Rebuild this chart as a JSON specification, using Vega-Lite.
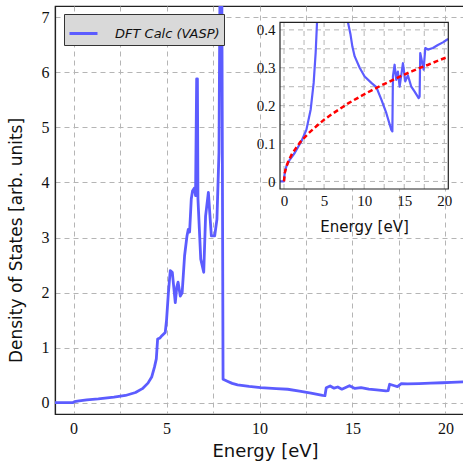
{
  "$schema": "https://vega.github.io/schema/vega-lite/v6.json",
  "width": 409,
  "height": 408,
  "autosize": "none",
  "padding": {"left": 55, "top": 6, "right": 0, "bottom": 48},
  "background": "white",
  "config": {
    "view": {"stroke": "#222222", "strokeWidth": 1.2},
    "axis": {
      "domainColor": "#222222",
      "domainWidth": 1.2,
      "gridColor": "#b5b5b5",
      "gridDash": [5, 4],
      "gridWidth": 1,
      "labelFont": "Liberation Serif",
      "labelFontSize": 16,
      "labelColor": "#111111",
      "titleFont": "DejaVu Sans",
      "titleFontWeight": "normal",
      "titleColor": "#111111"
    }
  },
  "datasets": {
    "dos": [
      {"E": -1.0, "D": 0.005}, {"E": -0.05, "D": 0.005}, {"E": 0.05, "D": 0.025},
      {"E": 0.3, "D": 0.04}, {"E": 0.71, "D": 0.057}, {"E": 1.33, "D": 0.075},
      {"E": 2.17, "D": 0.106}, {"E": 2.79, "D": 0.136}, {"E": 3.33, "D": 0.19},
      {"E": 3.7, "D": 0.26}, {"E": 4.0, "D": 0.36}, {"E": 4.2, "D": 0.47},
      {"E": 4.35, "D": 0.65}, {"E": 4.45, "D": 0.8}, {"E": 4.52, "D": 1.16},
      {"E": 4.65, "D": 1.18}, {"E": 4.75, "D": 1.22}, {"E": 4.93, "D": 1.28},
      {"E": 5.0, "D": 1.5}, {"E": 5.1, "D": 2.0}, {"E": 5.2, "D": 2.4},
      {"E": 5.31, "D": 2.37}, {"E": 5.47, "D": 1.82}, {"E": 5.55, "D": 2.1},
      {"E": 5.62, "D": 2.19}, {"E": 5.74, "D": 1.94}, {"E": 5.84, "D": 2.0},
      {"E": 5.97, "D": 2.67}, {"E": 6.1, "D": 3.03}, {"E": 6.17, "D": 3.15},
      {"E": 6.24, "D": 3.1}, {"E": 6.33, "D": 3.7}, {"E": 6.4, "D": 3.85},
      {"E": 6.5, "D": 3.9}, {"E": 6.56, "D": 3.76}, {"E": 6.62, "D": 5.88},
      {"E": 6.66, "D": 5.88}, {"E": 6.69, "D": 3.7}, {"E": 6.84, "D": 2.61},
      {"E": 7.0, "D": 2.37}, {"E": 7.1, "D": 3.39}, {"E": 7.25, "D": 3.82},
      {"E": 7.41, "D": 3.03}, {"E": 7.59, "D": 3.03}, {"E": 7.71, "D": 3.33},
      {"E": 7.82, "D": 4.54}, {"E": 7.9, "D": 9.0}, {"E": 7.96, "D": 9.0},
      {"E": 8.04, "D": 0.43}, {"E": 8.3, "D": 0.39}, {"E": 8.53, "D": 0.356},
      {"E": 8.82, "D": 0.33}, {"E": 9.44, "D": 0.3}, {"E": 10.06, "D": 0.277},
      {"E": 10.9, "D": 0.26}, {"E": 11.52, "D": 0.249}, {"E": 12.15, "D": 0.216},
      {"E": 12.77, "D": 0.18}, {"E": 13.39, "D": 0.136}, {"E": 13.52, "D": 0.132},
      {"E": 13.59, "D": 0.277}, {"E": 13.8, "D": 0.308}, {"E": 14.01, "D": 0.268},
      {"E": 14.21, "D": 0.29}, {"E": 14.43, "D": 0.25}, {"E": 14.84, "D": 0.312},
      {"E": 15.13, "D": 0.264}, {"E": 15.46, "D": 0.28}, {"E": 15.88, "D": 0.25},
      {"E": 16.3, "D": 0.237}, {"E": 16.8, "D": 0.22}, {"E": 16.92, "D": 0.224},
      {"E": 17.0, "D": 0.339}, {"E": 17.26, "D": 0.312}, {"E": 17.42, "D": 0.295},
      {"E": 17.63, "D": 0.352}, {"E": 17.96, "D": 0.348}, {"E": 18.58, "D": 0.352},
      {"E": 19.2, "D": 0.36}, {"E": 19.83, "D": 0.367}, {"E": 20.32, "D": 0.374},
      {"E": 21.0, "D": 0.385}
    ],
    "inset": [
      {"seg": 1, "E": -0.5, "D": 0.0}, {"seg": 1, "E": -0.02, "D": 0.0},
      {"seg": 1, "E": 0.09, "D": 0.022}, {"seg": 1, "E": 0.3, "D": 0.04},
      {"seg": 1, "E": 0.71, "D": 0.057}, {"seg": 1, "E": 1.33, "D": 0.075},
      {"seg": 1, "E": 2.17, "D": 0.106}, {"seg": 1, "E": 2.79, "D": 0.136},
      {"seg": 1, "E": 3.33, "D": 0.19}, {"seg": 1, "E": 3.7, "D": 0.26},
      {"seg": 1, "E": 3.95, "D": 0.34}, {"seg": 1, "E": 4.12, "D": 0.42},
      {"seg": 2, "E": 7.98, "D": 0.42}, {"seg": 2, "E": 8.28, "D": 0.39},
      {"seg": 2, "E": 8.53, "D": 0.356}, {"seg": 2, "E": 8.82, "D": 0.33},
      {"seg": 2, "E": 9.44, "D": 0.3}, {"seg": 2, "E": 10.06, "D": 0.277},
      {"seg": 2, "E": 10.9, "D": 0.26}, {"seg": 2, "E": 11.52, "D": 0.249},
      {"seg": 2, "E": 12.15, "D": 0.216}, {"seg": 2, "E": 12.77, "D": 0.18},
      {"seg": 2, "E": 13.39, "D": 0.136}, {"seg": 2, "E": 13.52, "D": 0.132},
      {"seg": 2, "E": 13.59, "D": 0.277}, {"seg": 2, "E": 13.8, "D": 0.308},
      {"seg": 2, "E": 14.01, "D": 0.268}, {"seg": 2, "E": 14.21, "D": 0.29},
      {"seg": 2, "E": 14.43, "D": 0.25}, {"seg": 2, "E": 14.84, "D": 0.312},
      {"seg": 2, "E": 15.13, "D": 0.264}, {"seg": 2, "E": 15.46, "D": 0.28},
      {"seg": 2, "E": 15.88, "D": 0.25}, {"seg": 2, "E": 16.3, "D": 0.237},
      {"seg": 2, "E": 16.8, "D": 0.22}, {"seg": 2, "E": 16.92, "D": 0.224},
      {"seg": 2, "E": 17.0, "D": 0.339}, {"seg": 2, "E": 17.26, "D": 0.312},
      {"seg": 2, "E": 17.42, "D": 0.295}, {"seg": 2, "E": 17.63, "D": 0.352},
      {"seg": 2, "E": 17.96, "D": 0.348}, {"seg": 2, "E": 18.58, "D": 0.352},
      {"seg": 2, "E": 19.2, "D": 0.36}, {"seg": 2, "E": 19.83, "D": 0.367},
      {"seg": 2, "E": 20.32, "D": 0.374}, {"seg": 2, "E": 20.5, "D": 0.376}
    ],
    "freeElectron": [
      {"E": 0.0, "D": 0.0}, {"E": 0.1, "D": 0.023}, {"E": 0.25, "D": 0.036},
      {"E": 0.5, "D": 0.051}, {"E": 1, "D": 0.073}, {"E": 2, "D": 0.103},
      {"E": 3, "D": 0.126}, {"E": 4, "D": 0.145}, {"E": 5, "D": 0.163},
      {"E": 6, "D": 0.178}, {"E": 7, "D": 0.192}, {"E": 8, "D": 0.206},
      {"E": 9, "D": 0.218}, {"E": 10, "D": 0.23}, {"E": 11, "D": 0.241},
      {"E": 12, "D": 0.252}, {"E": 13, "D": 0.262}, {"E": 14, "D": 0.272},
      {"E": 15, "D": 0.282}, {"E": 16, "D": 0.291}, {"E": 17, "D": 0.3},
      {"E": 18, "D": 0.308}, {"E": 19, "D": 0.317}, {"E": 20, "D": 0.325},
      {"E": 20.5, "D": 0.329}
    ],
    "insetBox": [
      {"E0": -0.5, "E1": 20.5, "D0": -0.02, "D1": 0.42}
    ],
    "insetGridE": [
      {"g": 0, "D0": -0.02, "D1": 0.42}, {"g": 2.5, "D0": -0.02, "D1": 0.42},
      {"g": 5, "D0": -0.02, "D1": 0.42}, {"g": 7.5, "D0": -0.02, "D1": 0.42},
      {"g": 10, "D0": -0.02, "D1": 0.42}, {"g": 12.5, "D0": -0.02, "D1": 0.42},
      {"g": 15, "D0": -0.02, "D1": 0.42}, {"g": 17.5, "D0": -0.02, "D1": 0.42},
      {"g": 20, "D0": -0.02, "D1": 0.42}
    ],
    "insetGridD": [
      {"g": 0, "E0": -0.5, "E1": 20.5}, {"g": 0.05, "E0": -0.5, "E1": 20.5},
      {"g": 0.1, "E0": -0.5, "E1": 20.5}, {"g": 0.15, "E0": -0.5, "E1": 20.5},
      {"g": 0.2, "E0": -0.5, "E1": 20.5}, {"g": 0.25, "E0": -0.5, "E1": 20.5},
      {"g": 0.3, "E0": -0.5, "E1": 20.5}, {"g": 0.35, "E0": -0.5, "E1": 20.5},
      {"g": 0.4, "E0": -0.5, "E1": 20.5}
    ]
  },
  "layer": [
    {
      "layer": [
        {
          "mark": {"type": "rule", "color": "black", "strokeWidth": 2, "strokeDash": [6, 4]},
          "encoding": {
            "x": {"datum": 0, "type": "quantitative"},
            "x2": {"datum": 21},
            "y": {"datum": 0, "type": "quantitative"}
          }
        },
        {
          "data": {"name": "dos"},
          "mark": {"type": "line", "clip": true, "strokeWidth": 2.8, "strokeJoin": "round"},
          "encoding": {
            "x": {
              "field": "E", "type": "quantitative",
              "scale": {"domain": [-1, 21], "nice": false, "zero": false},
              "axis": {
                "title": "Energy [eV]",
                "titleFontSize": 18,
                "titleX": 210,
                "titleY": 42,
                "titleBaseline": "alphabetic",
                "values": [0, 2.5, 5, 7.5, 10, 12.5, 15, 17.5, 20],
                "labelExpr": "datum.value % 5 === 0 ? format(datum.value, 'd') : ''",
                "ticks": false,
                "labelPadding": 6,
                "grid": true
              }
            },
            "y": {
              "field": "D", "type": "quantitative",
              "scale": {"domain": [-0.2, 7.2], "nice": false, "zero": false},
              "axis": {
                "title": "Density of States [arb. units]",
                "titleFontSize": 17,
                "titleAngle": 270,
                "titleX": -39,
                "titleY": 234,
                "titleAlign": "center",
                "titleBaseline": "middle",
                "values": [0, 0.5, 1, 1.5, 2, 2.5, 3, 3.5, 4, 4.5, 5, 5.5, 6, 6.5, 7],
                "labelExpr": "datum.value % 1 === 0 ? format(datum.value, 'd') : ''",
                "ticks": false,
                "labelPadding": 6,
                "grid": true
              }
            },
            "color": {
              "datum": "DFT Calc (VASP)",
              "type": "nominal",
              "scale": {"range": ["#5c5cff"]},
              "legend": {
                "title": null,
                "orient": "none",
                "legendX": 9,
                "legendY": 8,
                "fillColor": "#d9d9d9",
                "strokeColor": "#333333",
                "padding": 4,
                "symbolType": "stroke",
                "symbolSize": 784,
                "symbolStrokeWidth": 3,
                "labelFont": "DejaVu Sans",
                "labelFontStyle": "italic",
                "labelFontSize": 13,
                "labelColor": "#111111",
                "labelOffset": 16
              }
            }
          }
        },
        {
          "mark": {"type": "rect", "color": "black"},
          "encoding": {
            "x": {"datum": -0.54, "type": "quantitative"},
            "x2": {"datum": 3.23},
            "y": {"datum": 5.2, "type": "quantitative"},
            "y2": {"datum": 5.72}
          }
        },
        {
          "mark": {"type": "text", "text": "Copper", "color": "white", "font": "DejaVu Sans", "fontStyle": "italic", "fontSize": 17, "align": "center", "baseline": "middle"},
          "encoding": {
            "x": {"datum": 1.35, "type": "quantitative"},
            "y": {"datum": 5.46, "type": "quantitative"}
          }
        }
      ]
    },
    {
      "layer": [
        {
          "data": {"name": "insetBox"},
          "mark": {"type": "rect", "color": "white", "opacity": 1},
          "encoding": {
            "x": {
              "field": "E0", "type": "quantitative",
              "scale": {"domain": [-0.5, 20.5], "range": [225, 393.3], "nice": false, "zero": false},
              "axis": {
                "orient": "bottom",
                "offset": -225,
                "domain": false,
                "title": "Energy [eV]",
                "titleFontSize": 15,
                "titleX": 309,
                "titleY": 42,
                "titleBaseline": "alphabetic",
                "values": [0, 2.5, 5, 7.5, 10, 12.5, 15, 17.5, 20],
                "labelExpr": "datum.value % 5 === 0 ? format(datum.value, 'd') : ''",
                "labelFontSize": 15,
                "ticks": false,
                "labelPadding": 4,
                "grid": false
              }
            },
            "x2": {"field": "E1"},
            "y": {
              "field": "D0", "type": "quantitative",
              "scale": {"domain": [-0.02, 0.42], "range": [183, 16.3], "nice": false, "zero": false},
              "axis": {
                "orient": "left",
                "offset": -225,
                "domain": false,
                "title": null,
                "values": [0, 0.05, 0.1, 0.15, 0.2, 0.25, 0.3, 0.35, 0.4],
                "labelExpr": "abs(round(datum.value * 100)) % 10 === 0 ? format(datum.value, '~g') : ''",
                "labelFontSize": 15,
                "ticks": false,
                "labelPadding": 5,
                "grid": false
              }
            },
            "y2": {"field": "D1"}
          }
        },
        {
          "data": {"name": "insetGridE"},
          "mark": {"type": "rule", "color": "#b5b5b5", "strokeWidth": 1, "strokeDash": [5, 4]},
          "encoding": {
            "x": {"field": "g", "type": "quantitative"},
            "y": {"field": "D0", "type": "quantitative"},
            "y2": {"field": "D1"}
          }
        },
        {
          "data": {"name": "insetGridD"},
          "mark": {"type": "rule", "color": "#b5b5b5", "strokeWidth": 1, "strokeDash": [5, 4]},
          "encoding": {
            "y": {"field": "g", "type": "quantitative"},
            "x": {"field": "E0", "type": "quantitative"},
            "x2": {"field": "E1"}
          }
        },
        {
          "data": {"name": "inset"},
          "mark": {"type": "line", "color": "#5c5cff", "strokeWidth": 2.2, "strokeJoin": "round"},
          "encoding": {
            "x": {"field": "E", "type": "quantitative"},
            "y": {"field": "D", "type": "quantitative"},
            "detail": {"field": "seg", "type": "nominal"}
          }
        },
        {
          "data": {"name": "freeElectron"},
          "mark": {"type": "line", "color": "#ff0000", "strokeWidth": 2.5, "strokeDash": [5, 3]},
          "encoding": {
            "x": {"field": "E", "type": "quantitative"},
            "y": {"field": "D", "type": "quantitative"}
          }
        },
        {
          "mark": {"type": "rule", "color": "black", "strokeWidth": 2, "strokeDash": [5, 3]},
          "encoding": {
            "x": {"datum": 0, "type": "quantitative"},
            "x2": {"datum": 20.5},
            "y": {"datum": 0, "type": "quantitative"}
          }
        },
        {
          "data": {"name": "insetBox"},
          "mark": {"type": "rect", "filled": false, "stroke": "#222222", "strokeWidth": 1.2},
          "encoding": {
            "x": {"field": "E0", "type": "quantitative"},
            "x2": {"field": "E1"},
            "y": {"field": "D0", "type": "quantitative"},
            "y2": {"field": "D1"}
          }
        }
      ]
    }
  ],
  "resolve": {
    "scale": {"x": "independent", "y": "independent", "color": "independent"},
    "axis": {"x": "independent", "y": "independent"}
  }
}
